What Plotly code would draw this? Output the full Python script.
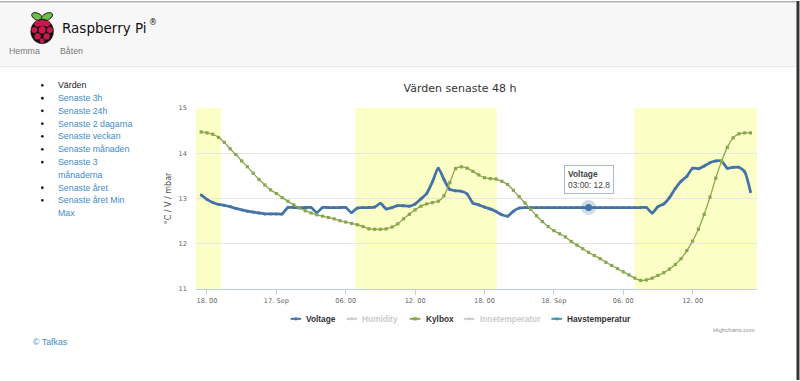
import math
import pandas as pd
import plotly.graph_objects as go

# ---------------- data ----------------
START = "2013-09-16 17:30"
STEP = "30min"

voltage = [13.08, 12.98, 12.91, 12.87, 12.85, 12.82, 12.78, 12.75, 12.72, 12.70,
           12.68, 12.66, 12.66, 12.66, 12.66, 12.80, 12.80, 12.80, 12.80, 12.80,
           12.69, 12.80, 12.80, 12.80, 12.80, 12.80, 12.69, 12.79, 12.80, 12.80,
           12.81, 12.89, 12.77, 12.80, 12.84, 12.84, 12.83, 12.88, 12.99, 13.11,
           13.37, 13.67, 13.42, 13.20, 13.17, 13.16, 13.10, 12.90, 12.86, 12.81,
           12.77, 12.71, 12.64, 12.61, 12.72, 12.79, 12.80, 12.80, 12.80, 12.80,
           12.80, 12.80, 12.80, 12.80, 12.80, 12.80, 12.80, 12.80, 12.80, 12.80,
           12.80, 12.80, 12.80, 12.80, 12.80, 12.80, 12.80, 12.80, 12.68, 12.82,
           12.88, 13.02, 13.22, 13.38, 13.49, 13.67, 13.66, 13.72, 13.79, 13.83,
           13.83, 13.67, 13.69, 13.69, 13.59, 13.15]

kylbox = [14.47, 14.45, 14.42, 14.35, 14.24, 14.10, 13.97, 13.83, 13.70, 13.56,
          13.42, 13.30, 13.19, 13.11, 13.02, 12.94, 12.86, 12.79, 12.73, 12.68,
          12.64, 12.61, 12.58, 12.55, 12.51, 12.48, 12.45, 12.42, 12.38, 12.33,
          12.32, 12.32, 12.33, 12.37, 12.44, 12.55, 12.65, 12.75, 12.83, 12.88,
          12.91, 12.94, 13.06, 13.35, 13.66, 13.70, 13.67, 13.60, 13.52, 13.46,
          13.44, 13.43, 13.38, 13.31, 13.18, 13.04, 12.90, 12.76, 12.62, 12.49,
          12.38, 12.29, 12.22, 12.15, 12.05, 11.97, 11.89, 11.81, 11.74, 11.67,
          11.59, 11.52, 11.45, 11.38, 11.31, 11.24, 11.19, 11.20, 11.24, 11.30,
          11.36, 11.44, 11.54, 11.67, 11.85, 12.06, 12.32, 12.65, 13.03, 13.45,
          13.82, 14.13, 14.34, 14.43, 14.45, 14.45]

# series without visible data in the picture (hidden or empty)
humidity = [None]
innetemperatur = [None]
havstemperatur = [None]

series_names = ["Voltage", "Humidity", "Kylbox", "Innetemperatur", "Havstemperatur"]
series_shown = [True, False, True, False, True]

tick_times = ["2013-09-16 18:00", "2013-09-17 00:00", "2013-09-17 06:00",
              "2013-09-17 12:00", "2013-09-17 18:00", "2013-09-18 00:00",
              "2013-09-18 06:00", "2013-09-18 12:00"]
tick_labels = ["18. 00", "17. Sep", "06. 00", "12. 00", "18. 00", "18. Sep",
               "06. 00", "12. 00"]

day_starts = ["2013-09-16 06:49", "2013-09-17 06:50", "2013-09-18 06:57"]
day_ends = ["2013-09-16 19:13", "2013-09-17 19:04", "2013-09-18 19:02"]

x_range = ["2013-09-16 17:03", "2013-09-18 17:34"]
y_range = [11, 15]
tooltip_index = 67

chart_title = "Värden senaste 48 h"
y_title = "°C / V / mbar"
nav_items = ["Värden", "Senaste 3h", "Senaste 24h", "Senaste 2 dagarna",
             "Senaste veckan", "Senaste månaden", "Senaste 3", "månaderna",
             "Senaste året", "Senaste året Min", "Max"]
nav_bullets = [True, True, True, True, True, True, True, False, True, True, False]
top_links = ["Hemma", "Båten"]

times = pd.date_range(START, periods=len(voltage), freq=STEP)

# ---------------- geometry helpers ----------------
W, H = 800, 381
L, R, T, B = 196, 757.5, 107.5, 289.5


def px(x):
    return (x - L) / (R - L)


def py(y):
    return (B - y) / (B - T)


BLUE = "#4572A7"
GREEN = "#89A54E"
TEAL = "#3D96AE"
HIDDEN = "#cccccc"
LINK = "#428bca"
REG = "DejaVu Sans"
ARIAL = "Liberation Sans"
series_colors = [BLUE, "#AA4643", GREEN, "#80699B", TEAL]

fig = go.Figure()

fig.add_trace(go.Scatter(x=times, y=voltage, name=series_names[0], mode="lines+markers",
                         line=dict(color=BLUE, width=2.8, shape="spline", smoothing=0.6),
                         marker=dict(symbol="circle", size=3, color=BLUE)))
fig.add_trace(go.Scatter(x=times[:1], y=humidity, name=series_names[1],
                         mode="lines+markers", visible="legendonly",
                         line=dict(color=series_colors[1], width=2)))
fig.add_trace(go.Scatter(x=times, y=kylbox, name=series_names[2], mode="lines+markers",
                         line=dict(color=GREEN, width=1.3, shape="spline", smoothing=0.6),
                         marker=dict(symbol="square", size=3.2, color=GREEN)))
fig.add_trace(go.Scatter(x=times[:1], y=innetemperatur, name=series_names[3],
                         mode="lines+markers", visible="legendonly",
                         line=dict(color=series_colors[3], width=2)))
fig.add_trace(go.Scatter(x=times[:1], y=havstemperatur, name=series_names[4], mode="lines+markers",
                         line=dict(color=TEAL, width=2), marker=dict(size=4, color=TEAL)))

# hovered point (halo + marker)
hx, hy = times[tooltip_index], voltage[tooltip_index]
fig.add_trace(go.Scatter(x=[hx], y=[hy], mode="markers", showlegend=False, hoverinfo="skip",
                         marker=dict(size=15, color="rgba(69,114,167,0.25)")))
fig.add_trace(go.Scatter(x=[hx], y=[hy], mode="markers", showlegend=False, hoverinfo="skip",
                         marker=dict(size=7, color=BLUE)))

shapes = []
# header background
shapes.append(dict(type="rect", xref="paper", yref="paper", x0=px(0), x1=px(797),
                   y0=py(66), y1=py(0), fillcolor="#f7f7f7", line=dict(width=0), layer="below"))
shapes.append(dict(type="line", xref="paper", yref="paper", x0=px(0), x1=px(797),
                   y0=py(66), y1=py(66), line=dict(color="#e4e4e4", width=1), layer="below"))
shapes.append(dict(type="line", xref="paper", yref="paper", x0=px(0), x1=px(797),
                   y0=py(0.7), y1=py(0.7), line=dict(color="#b4b4b4", width=1.5), layer="below"))
# right dark edge
shapes.append(dict(type="rect", xref="paper", yref="paper", x0=px(797), x1=px(800),
                   y0=py(381), y1=py(0), fillcolor="#333333", line=dict(width=0), layer="below"))

# daylight plot bands
for s, e in zip(day_starts, day_ends):
    shapes.append(dict(type="rect", xref="x", yref="paper", x0=s, x1=e, y0=0, y1=1,
                       fillcolor="#FCFFC5", line=dict(width=0), layer="below"))


def circle(cx, cy, r, color, line_color=None, lw=0):
    return dict(type="circle", xref="paper", yref="paper",
                x0=px(cx - r), x1=px(cx + r), y0=py(cy + r), y1=py(cy - r),
                fillcolor=color, line=dict(color=line_color or color, width=lw), layer="above")


def rect(x0, y0, x1, y1, color):
    return dict(type="rect", xref="paper", yref="paper",
                x0=px(x0), x1=px(x1), y0=py(y1), y1=py(y0),
                fillcolor=color, line=dict(width=0), layer="above")


def ellipse_path(cx, cy, rx, ry, ang):
    pts = []
    a = math.radians(ang)
    for k in range(24):
        t = 2 * math.pi * k / 24
        ex, ey = rx * math.cos(t), ry * math.sin(t)
        x = cx + ex * math.cos(a) - ey * math.sin(a)
        y = cy + ex * math.sin(a) + ey * math.cos(a)
        pts.append("%s%.5f,%.5f" % ("M" if k == 0 else "L", px(x), py(y)))
    return "".join(pts) + "Z"


# Raspberry logo
for cx, ang in ((37.3, 28), (46.7, -28)):
    shapes.append(dict(type="path", xref="paper", yref="paper",
                       path=ellipse_path(cx, 15.8, 6.2, 3.4, ang),
                       fillcolor="#6cc04a", line=dict(color="#111", width=1), layer="above"))
shapes.append(dict(type="path", xref="paper", yref="paper",
                   path=ellipse_path(42, 30.5, 11.4, 12.4, 0),
                   fillcolor="#111111", line=dict(color="#111", width=0.5), layer="above"))
for cx, cy, r in [(37.2, 22.6, 3.1), (42, 22.0, 3.3), (46.8, 22.6, 3.1),
                  (34.3, 29.0, 3.0), (42, 29.0, 3.6), (49.7, 29.0, 3.0),
                  (37.5, 35.5, 3.2), (46.5, 35.5, 3.2), (42, 40.0, 2.4)]:
    shapes.append(circle(cx, cy, r, "#c51a4a"))

# nav bullets
nav_y = [84.7, 97.7, 110.3, 123.3, 136, 149, 162, 174.7, 187.7, 200.3, 213.3]
for yy, b in zip(nav_y, nav_bullets):
    if b:
        shapes.append(circle(42.2, yy, 1.4, "#222222"))

annotations = []


def text(x, y, s, size, color, family=ARIAL, anchor="left", weight="normal"):
    annotations.append(dict(xref="paper", yref="paper", x=px(x), y=py(y), text=s,
                            showarrow=False, xanchor=anchor, yanchor="middle",
                            font=dict(family=family, size=size, color=color, weight=weight)))


text(59.5, 27, "Raspberry Pi", 13.5, "#111111", family=REG)
text(147, 21.5, "®", 8, "#111111", family=REG)
text(7, 50, top_links[0], 8.8, "#777777")
text(58, 50, top_links[1], 8.8, "#777777")

for i, (yy, s) in enumerate(zip(nav_y, nav_items)):
    text(55.5, yy, s, 8.8, "#222222" if i == 0 else LINK)

text(31, 342.3, "© Tafkas", 8.8, LINK)
text(758, 331, "Highcharts.com", 6, "#909090", anchor="right")

# legend (Highcharts style: short line + marker, hidden series greyed)
legend_x = [290.7, 346.7, 410.0, 464.0, 551.7]
legend_y = 319.5
for i, name in enumerate(series_names):
    col = series_colors[i] if series_shown[i] else HIDDEN
    x0 = legend_x[i]
    shapes.append(dict(type="line", xref="paper", yref="paper", x0=px(x0), x1=px(x0 + 10.5),
                       y0=py(legend_y), y1=py(legend_y), line=dict(color=col, width=2),
                       layer="above"))
    if i == 2:
        shapes.append(rect(x0 + 3.6, legend_y - 1.6, x0 + 6.9, legend_y + 1.6, col))
    else:
        shapes.append(circle(x0 + 5.25, legend_y, 1.7, col))
    text(x0 + 13.8, legend_y, "<b>%s</b>" % name, 8.3, "#333333" if series_shown[i] else HIDDEN)

# tooltip
annotations.append(dict(xref="x", yref="y", x=hx, y=hy, showarrow=False,
                        xanchor="center", yanchor="bottom", yshift=14, align="left",
                        text="<b>%s</b><br>%s: %.1f" % (series_names[0], hx.strftime("%H:%M"), hy),
                        bgcolor="rgba(255,255,255,0.88)", bordercolor="#a9b9cf",
                        borderwidth=1, borderpad=3,
                        font=dict(family=ARIAL, size=8.4, color="#444444")))

fig.update_layout(
    width=W, height=H, autosize=False,
    margin=dict(l=L, r=W - R, t=T, b=H - B, pad=0),
    paper_bgcolor="white", plot_bgcolor="white",
    font=dict(family=REG, color="#666666"),
    title=dict(text=chart_title, x=460 / W, xref="container", xanchor="center",
               y=1 - 88.3 / H, yref="container", yanchor="middle",
               font=dict(family=REG, size=11, color="#333333")),
    shapes=shapes, annotations=annotations,
    showlegend=False,
    hovermode=False,
)

fig.update_xaxes(type="date", range=x_range, tickvals=tick_times, ticktext=tick_labels,
                 showgrid=False, zeroline=False, showline=True, linecolor="#C0D0E0", linewidth=1,
                 ticks="outside", ticklen=5, tickcolor="#C0D0E0",
                 tickfont=dict(family=REG, size=6.6, color="#666666"), fixedrange=True)
fig.update_yaxes(range=y_range, dtick=1, showgrid=True, gridcolor="#e6e6e6", gridwidth=1,
                 zeroline=False, showline=False, ticks="", ticklabelstandoff=8,
                 tickfont=dict(family=REG, size=6.6, color="#666666"),
                 title=dict(text=y_title, standoff=5, font=dict(family=REG, size=8, color="#555555")),
                 fixedrange=True)

fig.write_html("out.html", config={"displayModeBar": False},
               post_script="document.body.style.margin='0px';document.body.style.overflow='hidden';")
